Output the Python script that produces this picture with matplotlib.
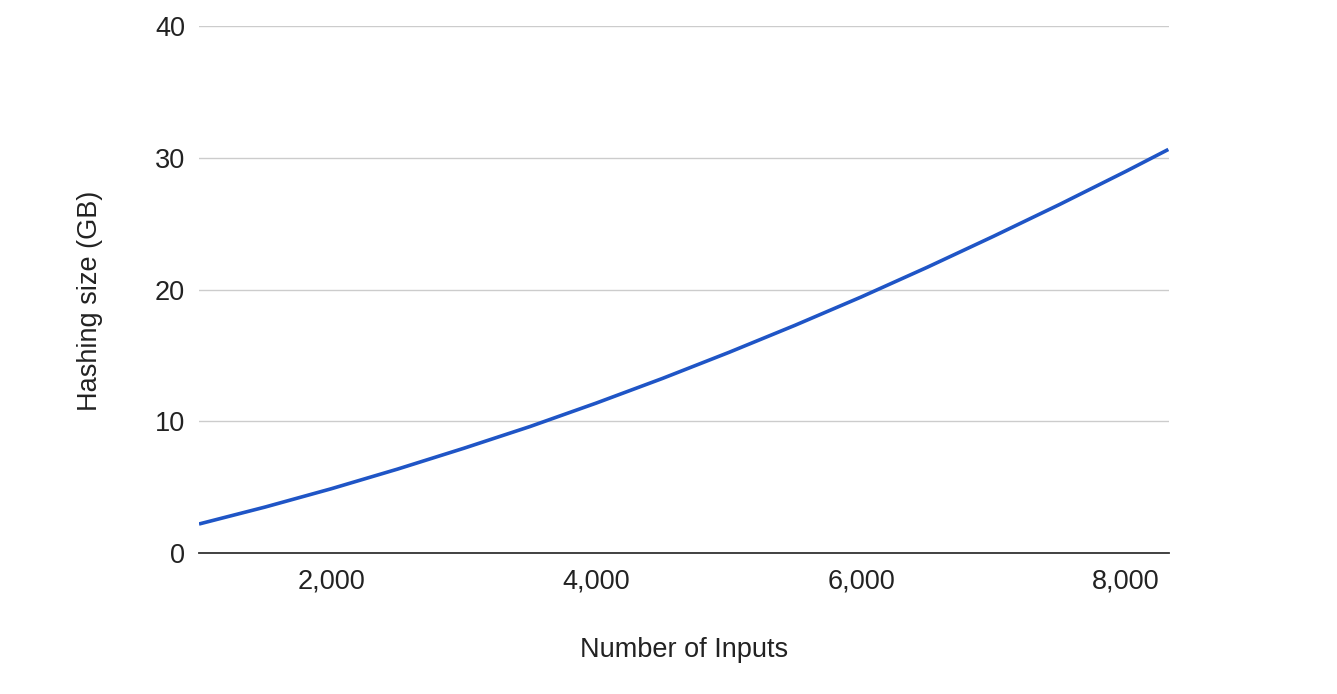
import matplotlib
matplotlib.use("Agg")
import matplotlib.pyplot as plt
from matplotlib.ticker import FuncFormatter

# Data
inputs = [1000, 1500, 2000, 2500, 3000, 3500, 4000, 4500, 5000, 5500,
          6000, 6500, 7000, 7500, 8000, 8320]
hashing_gb = [2.2, 3.49, 4.88, 6.37, 7.95, 9.6, 11.38, 13.25, 15.22, 17.28,
              19.43, 21.69, 24.04, 26.46, 28.97, 30.63]
x_ticks = [2000, 4000, 6000, 8000]
y_ticks = [0, 10, 20, 30, 40]

plt.rcParams['font.family'] = ['Liberation Sans', 'DejaVu Sans']

fig = plt.figure(figsize=(13.37, 6.94), dpi=100)
ax = fig.add_axes([199/1337, 1 - 553/694, (1169 - 199)/1337, (553 - 26)/694])

ax.plot(inputs, hashing_gb, color='#1f55c6', linewidth=2.6,
        solid_capstyle='butt', solid_joinstyle='round', zorder=3)

ax.set_xlim(1000, 8325)
ax.set_ylim(0, 40)
ax.set_xticks(x_ticks)
ax.set_yticks(y_ticks)
ax.xaxis.set_major_formatter(FuncFormatter(lambda v, p: f"{int(v):,}"))
ax.yaxis.grid(True, color='#cccccc', linewidth=1.0)
ax.set_axisbelow(True)
for s in ['top', 'right', 'left']:
    ax.spines[s].set_visible(False)
ax.spines['bottom'].set_color('#333333')
ax.spines['bottom'].set_linewidth(1.3)
ax.spines['bottom'].set_zorder(4)
ax.tick_params(axis='both', length=0, labelsize=19.5, labelcolor='#222222')
ax.tick_params(axis='y', pad=10)
ax.tick_params(axis='x', pad=11.5)

ax.set_xlabel("Number of Inputs", fontsize=19.5, color='#222222', labelpad=30)
ax.set_ylabel("Hashing size (GB)", fontsize=19.5, color='#222222', labelpad=40)
ax.yaxis.set_label_coords(-0.0985, 0.478)

fig.savefig("out.png", dpi=100, facecolor='white')
